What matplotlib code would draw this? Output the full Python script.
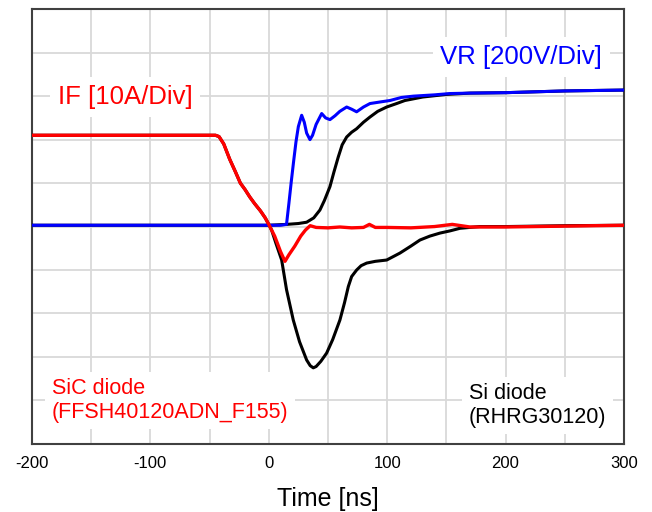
import matplotlib
matplotlib.use("Agg")
import matplotlib.pyplot as plt
import numpy as np

plt.rcParams['font.family'] = ['Liberation Sans', 'DejaVu Sans']
plt.rcParams['axes.unicode_minus'] = False

# SiC diode forward current IF (divisions)
t_sic_if = [-200, -150, -100, -60, -45, -42, -38, -33, -28, -24, -20, -16, -12, -7, -3, 0,
            5, 10, 13.7, 17, 22, 27, 31, 35, 40, 50, 60, 70, 80, 85, 90, 100, 120, 140,
            155, 170, 200, 250, 300]
sic_if = [7.1, 7.1, 7.1, 7.1, 7.1, 7.07, 6.9, 6.55, 6.25, 6.0, 5.85, 5.68, 5.53, 5.36, 5.2, 5.05,
          4.78, 4.42, 4.2, 4.35, 4.55, 4.78, 4.92, 5.02, 4.98, 4.97, 4.99, 4.97, 4.98, 5.05, 4.98,
          4.98, 4.97, 5.0, 5.05, 4.99, 4.99, 5.01, 5.03]

# Si diode forward current IF
t_si_if = [-200, -150, -100, -60, -45, -42, -38, -33, -28, -24, -20, -16, -12, -7, -3, 0,
           2.4, 6, 10.9, 15, 20.7, 26, 32, 35, 37.6, 40, 44, 48.9, 54, 60.1, 64, 67.2, 70,
           74.2, 78, 82.7, 90, 99.6, 110.8, 120, 127.7, 136, 144.6, 153, 161.5, 178, 200, 250, 300]
si_if = [7.1, 7.1, 7.1, 7.1, 7.1, 7.07, 6.9, 6.55, 6.25, 6.0, 5.85, 5.68, 5.53, 5.36, 5.2, 5.05,
         4.92, 4.62, 4.23, 3.55, 2.85, 2.35, 1.93, 1.8, 1.75, 1.78, 1.9, 2.09, 2.4, 2.85, 3.25,
         3.62, 3.85, 4.0, 4.1, 4.16, 4.2, 4.23, 4.39, 4.55, 4.69, 4.78, 4.85, 4.9, 4.96, 5.0,
         5.0, 5.02, 5.03]

# SiC diode reverse voltage VR
t_sic_vr = [-200, -150, -100, -50, 0, 10, 15, 17, 19, 21, 23, 25, 27.8, 30, 32, 34.8, 37, 40,
            44.7, 48, 51.7, 56, 60, 65.8, 70, 74.2, 80, 85.5, 95, 102.4, 112, 122, 140, 153,
            170, 200, 250, 300]
sic_vr = [5.03, 5.03, 5.03, 5.03, 5.03, 5.03, 5.05, 5.53, 6.03, 6.5, 6.95, 7.3, 7.56, 7.4, 7.15,
          7.0, 7.1, 7.35, 7.6, 7.5, 7.46, 7.55, 7.65, 7.75, 7.7, 7.64, 7.75, 7.83, 7.87, 7.9,
          7.97, 8.0, 8.03, 8.06, 8.07, 8.08, 8.12, 8.14]

# Si diode reverse voltage VR
t_si_vr = [-200, -100, 0, 15, 25, 32, 38, 43.2, 47, 51.7, 55, 58.7, 62, 65.8, 70, 74.2, 80,
           85.5, 92, 99.6, 108, 115, 130, 150, 170, 200, 250, 300]
si_vr = [5.03, 5.03, 5.03, 5.05, 5.07, 5.1, 5.2, 5.38, 5.6, 5.92, 6.25, 6.6, 6.88, 7.06, 7.17,
         7.25, 7.4, 7.52, 7.65, 7.75, 7.83, 7.9, 7.98, 8.04, 8.07, 8.08, 8.12, 8.14]

fig = plt.figure(figsize=(6.52, 5.12), dpi=100)
ax = fig.add_axes([0.049, 0.133, 0.908, 0.849])

ax.plot(t_si_if, si_if, color='black', lw=2.2, zorder=3)
ax.plot(t_si_vr, si_vr, color='black', lw=2.2, zorder=3)
ax.plot(t_sic_vr, sic_vr, color='#0000ff', lw=2.2, zorder=4)
ax.plot(t_sic_if, sic_if, color='#ff0000', lw=2.4, zorder=5)

ax.set_xlim(-200, 300)
ax.set_ylim(0, 10)
ax.set_xticks([-200, -100, 0, 100, 200, 300])
ax.set_xticks(np.arange(-200, 301, 50), minor=True)
ax.set_yticks(np.arange(0, 11, 1))
ax.set_yticklabels([])
ax.grid(True, which='both', axis='x', color='#d9d9d9', lw=1.3)
ax.grid(True, which='major', axis='y', color='#d9d9d9', lw=1.3)
ax.set_axisbelow(True)
ax.tick_params(axis='both', which='both', length=0)
ax.tick_params(axis='x', labelsize=12, pad=9)
for s in ax.spines.values():
    s.set_color('#404040')
    s.set_linewidth(1.5)

ax.set_xlabel('Time [ns]', fontsize=18, labelpad=11)

box = dict(boxstyle='square,pad=0.3', facecolor='white', edgecolor='none')
ax.text(-178, 7.98, 'IF [10A/Div]', color='#ff0000', fontsize=18.5, va='center', ha='left',
        bbox=box, zorder=6)
ax.text(145, 8.9, 'VR [200V/Div]', color='#0000ff', fontsize=18.5, va='center', ha='left',
        bbox=box, zorder=6)
ax.text(-183.4, 1.0, 'SiC diode\n(FFSH40120ADN_F155)', color='#ff0000', fontsize=15.5,
        va='center', ha='left', linespacing=1.15, bbox=box, zorder=6)
ax.text(169, 0.88, 'Si diode\n(RHRG30120)', color='black', fontsize=15.5,
        va='center', ha='left', linespacing=1.15, bbox=box, zorder=6)

fig.savefig('out.png', dpi=100)
